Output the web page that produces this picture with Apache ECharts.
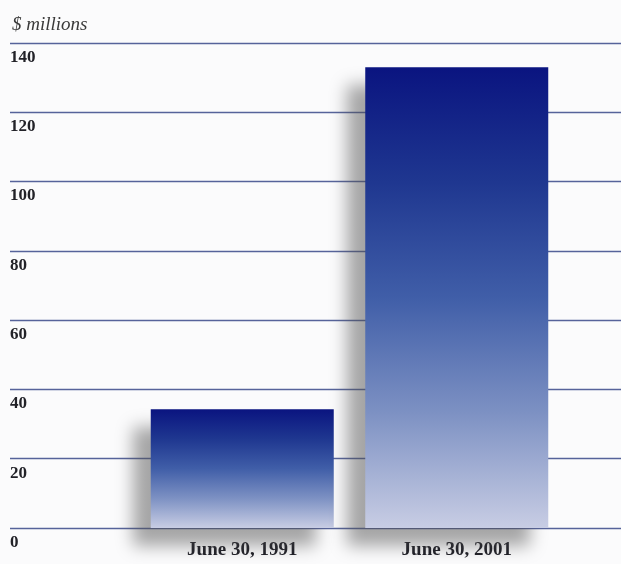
<!DOCTYPE html>
<html>
<head>
<meta charset="utf-8">
<script src="https://cdn.jsdelivr.net/npm/echarts@6/dist/echarts.min.js"></script>
<style>
  html, body { margin: 0; padding: 0; background: #fbfbfc; }
  #chart { width: 621px; height: 564px; }
</style>
</head>
<body>
<div id="chart"></div>
<script>
// Assets, $ millions
const categories = ['June 30, 1991', 'June 30, 2001'];
const assets = [34.3, 133];
const yTicks = [0, 20, 40, 60, 80, 100, 120, 140];

const serif = '"Liberation Serif", "DejaVu Serif", serif';
const yMin = yTicks[0];
const yMax = yTicks[yTicks.length - 1];
const yStep = yTicks[1] - yTicks[0];

const chart = echarts.init(document.getElementById('chart'), null, { renderer: 'canvas' });

chart.setOption({
  backgroundColor: '#fbfbfc',
  animation: false,
  title: {
    text: '$ millions',
    left: 7,
    top: 10,
    textStyle: { fontFamily: serif, fontStyle: 'italic', fontWeight: 'normal', fontSize: 19, color: '#3a3a3a' }
  },
  grid: [
    // full-width grid carrying the rules and value labels
    { left: 10, right: 0, top: 43, bottom: 36 },
    // narrower grid holding the two bars
    { left: 135, width: 429, top: 43, bottom: 36 }
  ],
  xAxis: [
    { gridIndex: 0, type: 'value', show: false, min: 0, max: 1 },
    {
      gridIndex: 1,
      type: 'category',
      data: categories,
      axisLine: { show: false },
      axisTick: { show: false },
      axisLabel: {
        margin: 13,
        fontFamily: serif,
        fontWeight: 'bold',
        fontSize: 19,
        color: '#1c1c24'
      }
    }
  ],
  yAxis: [
    {
      gridIndex: 0,
      type: 'value',
      min: yMin,
      max: yMax,
      interval: yStep,
      axisLine: { show: false },
      axisTick: { show: false },
      splitLine: { show: true, lineStyle: { color: '#56639a', width: 1.4 } },
      axisLabel: {
        inside: true,
        margin: 0,
        align: 'left',
        verticalAlign: 'top',
        padding: [6, 0, 0, 0],
        fontFamily: serif,
        fontWeight: 'bold',
        fontSize: 17,
        color: '#222228'
      }
    },
    {
      gridIndex: 1,
      type: 'value',
      min: yMin,
      max: yMax,
      interval: yStep,
      show: false
    }
  ],
  series: [
    {
      type: 'bar',
      xAxisIndex: 1,
      yAxisIndex: 1,
      data: assets,
      barWidth: 183,
      itemStyle: {
        color: {
          type: 'linear', x: 0, y: 0, x2: 0, y2: 1,
          colorStops: [
            { offset: 0, color: '#0a1480' },
            { offset: 0.25, color: '#1f3790' },
            { offset: 0.5, color: '#405ea8' },
            { offset: 0.75, color: '#7d91c3' },
            { offset: 1, color: '#c8cde4' }
          ]
        },
        shadowColor: 'rgba(80,80,80,0.5)',
        shadowBlur: 16,
        shadowOffsetX: -18,
        shadowOffsetY: 18
      }
    }
  ]
});
</script>
</body>
</html>
